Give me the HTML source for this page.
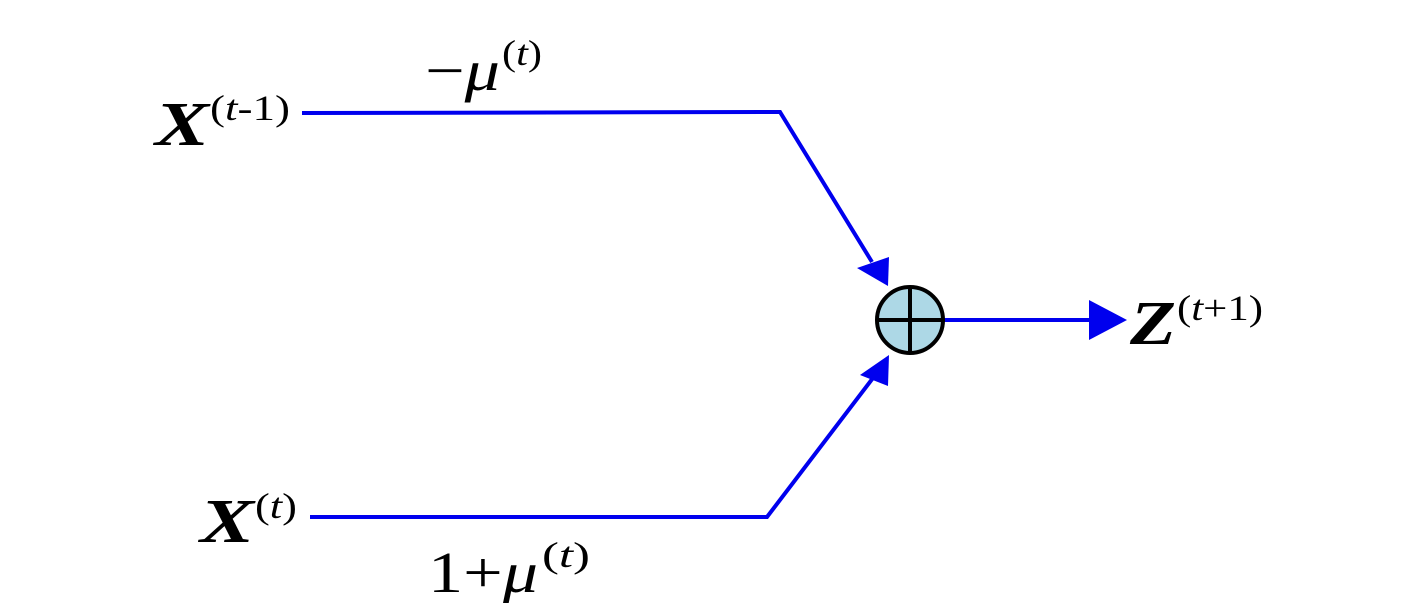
<!DOCTYPE html>
<html><head><style>
body{margin:0;background:#fff;width:1417px;height:603px;overflow:hidden}
text{font-family:"Liberation Serif",serif}
.b{font-weight:bold;font-style:italic;font-size:62px}
.s{font-size:36px}
.m{font-size:58px}
</style></head><body>
<svg width="1417" height="603" viewBox="0 0 1417 603">
<g stroke="#0000ee" stroke-width="4" fill="none">
<polyline points="302,113 780,112 872,262"/>
<polyline points="310,517 767,517 876,374"/>
<line x1="944" y1="320" x2="1095" y2="320"/>
</g>
<g fill="#0000ee">
<polygon points="888,286 857,268 889,257"/>
<polygon points="889,355 860,375 888,386"/>
<polygon points="1127,320 1089,300 1089,340"/>
</g>
<circle cx="910" cy="320" r="33" fill="#add8e6" stroke="#000" stroke-width="4"/>
<line x1="877" y1="320" x2="943" y2="320" stroke="#000" stroke-width="4"/>
<line x1="910" y1="287" x2="910" y2="353" stroke="#000" stroke-width="4"/>
<text x="155" y="145" class="b" textLength="54" lengthAdjust="spacingAndGlyphs">X</text><text x="210" y="120" class="s" textLength="80" lengthAdjust="spacingAndGlyphs">(<tspan font-style="italic">t</tspan>-1)</text>
<text x="425" y="90" class="m" textLength="75" lengthAdjust="spacingAndGlyphs">−<tspan font-style="italic">μ</tspan></text><text x="502" y="65" class="s" textLength="40" lengthAdjust="spacingAndGlyphs">(<tspan font-style="italic">t</tspan>)</text>
<text x="200" y="542" class="b" textLength="54" lengthAdjust="spacingAndGlyphs">X</text><text x="255" y="518" class="s" textLength="42" lengthAdjust="spacingAndGlyphs">(<tspan font-style="italic">t</tspan>)</text>
<text x="428" y="592" class="m" textLength="110" lengthAdjust="spacingAndGlyphs">1+<tspan font-style="italic">μ</tspan></text><text x="542" y="567" class="s" textLength="48" lengthAdjust="spacingAndGlyphs">(<tspan font-style="italic">t</tspan>)</text>
<text x="1130" y="344" class="b" textLength="46" lengthAdjust="spacingAndGlyphs">Z</text><text x="1177" y="320" class="s" textLength="86" lengthAdjust="spacingAndGlyphs">(<tspan font-style="italic">t</tspan>+1)</text>
</svg>
</body></html>
